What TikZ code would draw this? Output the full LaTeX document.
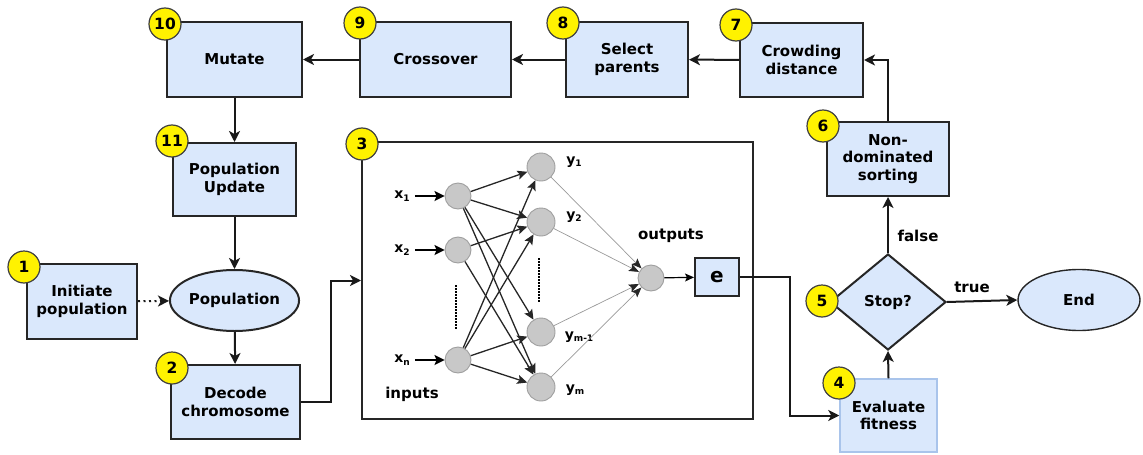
\documentclass[tikz,border=0pt]{standalone}
\usepackage{fontspec}
\setmainfont{DejaVu Sans}
\usetikzlibrary{shapes.geometric,arrows.meta,calc}
\definecolor{boxblue}{HTML}{DAE8FC}
\definecolor{evalborder}{HTML}{A9C4EB}
\definecolor{nodegray}{HTML}{C8C8C8}
\tikzset{
  txt/.style={font=\bfseries\fontsize{15}{17.5}\selectfont},
  box/.style={txt, draw=black!85, line width=2pt, fill=boxblue, align=center, inner sep=0pt},
  ovalnode/.style={box, ellipse},
  badge/.style={circle, draw=black!75, line width=1.2pt, fill=yellow, minimum size=32pt, inner sep=0pt, font=\bfseries\fontsize{15.5}{17}\selectfont},
  arr/.style={line width=2pt, draw=black!90, -{Stealth[length=11pt,width=11pt,inset=3pt]}},
  neuron/.style={circle, fill=nodegray, draw=gray!75, line width=0.9pt, inner sep=0pt},
  link/.style={line width=1.3pt, draw=black!85, -{Stealth[length=10pt,width=9pt,inset=2pt]}},
  thinlink/.style={line width=0.7pt, draw=gray!80, -{Stealth[length=10pt,width=8pt,inset=2pt,color=black!85]}},
  lab/.style={font=\bfseries\fontsize{14}{16}\selectfont, inner sep=0pt}
}
\newcommand{\nnsub}[1]{\raisebox{-2.5pt}{\fontsize{9}{10}\selectfont #1}}
\begin{document}
\begin{tikzpicture}[x=1pt,y=-1pt]
\useasboundingbox (0,0) rectangle (1143,455);
% main boxes
\node[box, minimum width=135pt, minimum height=75pt] (mut) at (234.5,59.5) {Mutate};
\node[box, minimum width=123pt, minimum height=73pt] (upd) at (234.5,179.5) {Population\\Update};
\node[box, minimum width=151pt, minimum height=75pt] (cross) at (435.5,59.5) {Crossover};
\node[box, minimum width=122pt, minimum height=75pt] (sel) at (627,59.5) {Select\\parents};
\node[box, minimum width=123pt, minimum height=74pt] (crowd) at (801.5,60) {Crowding\\distance};
\node[box, minimum width=122pt, minimum height=74pt] (nds) at (888,159) {Non-\\dominated\\sorting};
\node[ovalnode, minimum width=123pt, minimum height=61pt] (pop) at (234.5,300.5) {Population};
\node[box, minimum width=110pt, minimum height=75pt] (init) at (82,301.5) {Initiate\\population};
\node[box, minimum width=129pt, minimum height=74pt] (dec) at (235.5,402) {Decode\\chromosome};
\node[draw=black!85, line width=2pt, minimum width=391pt, minimum height=277pt, inner sep=0pt] (big) at (557.5,280.5) {};
\node[box, draw=evalborder, line width=1.5pt, minimum width=97pt, minimum height=73pt] (eval) at (888.5,415.5) {Evaluate\\fitness};
\node[box, diamond, minimum width=116pt, minimum height=96pt] (stop) at (888,302) {Stop?};
\node[ovalnode, line width=1.4pt, minimum width=122pt, minimum height=61pt] (end) at (1079,300) {End};

% neural network
\node[neuron, minimum size=26pt] (in1) at (458,196) {};
\node[neuron, minimum size=26pt] (in2) at (458,250) {};
\node[neuron, minimum size=26pt] (inn) at (458,360) {};
\node[neuron, minimum size=28pt] (h1) at (541,167) {};
\node[neuron, minimum size=28pt] (h2) at (541,222) {};
\node[neuron, minimum size=28pt] (h3) at (541,332) {};
\node[neuron, minimum size=28pt] (h4) at (541,387) {};
\node[neuron, minimum size=26pt] (out) at (651,278) {};
\node[box, minimum width=44pt, minimum height=38pt, font=\bfseries\fontsize{20}{22}\selectfont] (e) at (717,277) {e};

\node[lab] (x1) at (402,196) {x\nnsub{1}};
\node[lab] (x2) at (402,250) {x\nnsub{2}};
\node[lab] (xn) at (402,360) {x\nnsub{n}};
\node[lab] (y1) at (574,162) {y\nnsub{1}};
\node[lab] (y2) at (574,217) {y\nnsub{2}};
\node[lab] (y3) at (579,337) {y\nnsub{m-1}};
\node[lab] (y4) at (575,390) {y\nnsub{m}};
\node[txt] (outputs) at (671,236) {outputs};
\node[txt] (inputs) at (412,394) {inputs};

\draw[line width=2pt, -{Stealth[length=10pt,width=10pt,inset=2pt]}] ([xshift=5pt]x1.east) -- (in1);
\draw[line width=2pt, -{Stealth[length=10pt,width=10pt,inset=2pt]}] ([xshift=5pt]x2.east) -- (in2);
\draw[line width=2pt, -{Stealth[length=10pt,width=10pt,inset=2pt]}] ([xshift=5pt]xn.east) -- (inn);

\foreach \h in {h1,h2,h3,h4} {
  \draw[link] (in1) -- (\h);
  \draw[link] (inn) -- (\h);
  \draw[thinlink] (\h) -- (out);
}
\draw[link] (in2) -- (h2);
\draw[link] (in2) -- (h4);
\draw[line width=1.2pt, -{Stealth[length=9pt,width=8pt,inset=2pt]}] (out) -- (e);

\draw[line width=2.2pt, dash pattern=on 1.5pt off 1.5pt] (456,285) -- (456,330);
\draw[line width=2.2pt, dash pattern=on 1.5pt off 1.5pt] (539,258) -- (539,303);

% connectors
\draw[arr] (cross) -- (mut);
\draw[arr] (sel) -- (cross);
\draw[arr] (crowd) -- (sel);
\draw[arr] (nds.north) |- (crowd.east);
\draw[arr] (mut) -- (upd);
\draw[arr] (upd) -- (pop);
\draw[arr, dash pattern=on 2pt off 3.5pt] (init) -- (pop);
\draw[arr] (pop) -- (dec);
\draw[arr] (dec.east) -- ++(30,0) |- (big.west);
\draw[arr] (e.east) -- ++(50,0) |- (eval.west);
\draw[arr] (eval.north) -- (stop.south);
\draw[arr] (stop.north) -- (nds.south);
\draw[arr] (stop.east) -- (end.west);
\node[txt] (flab) at (918,236) {false};
\node[txt] (tlab) at (972,287) {true};

% badges
\node[badge] (b10) at (165,24) {10};
\node[badge] (b11) at (172,141) {11};
\node[badge] (b9) at (360,23) {9};
\node[badge] (b8) at (563,23) {8};
\node[badge] (b7) at (736,25) {7};
\node[badge] (b6) at (823,126) {6};
\node[badge] (b1) at (24,267) {1};
\node[badge] (b2) at (172,368) {2};
\node[badge] (b3) at (362,144) {3};
\node[badge] (b4) at (839,383) {4};
\node[badge] (b5) at (822,301) {5};
\end{tikzpicture}
\end{document}
